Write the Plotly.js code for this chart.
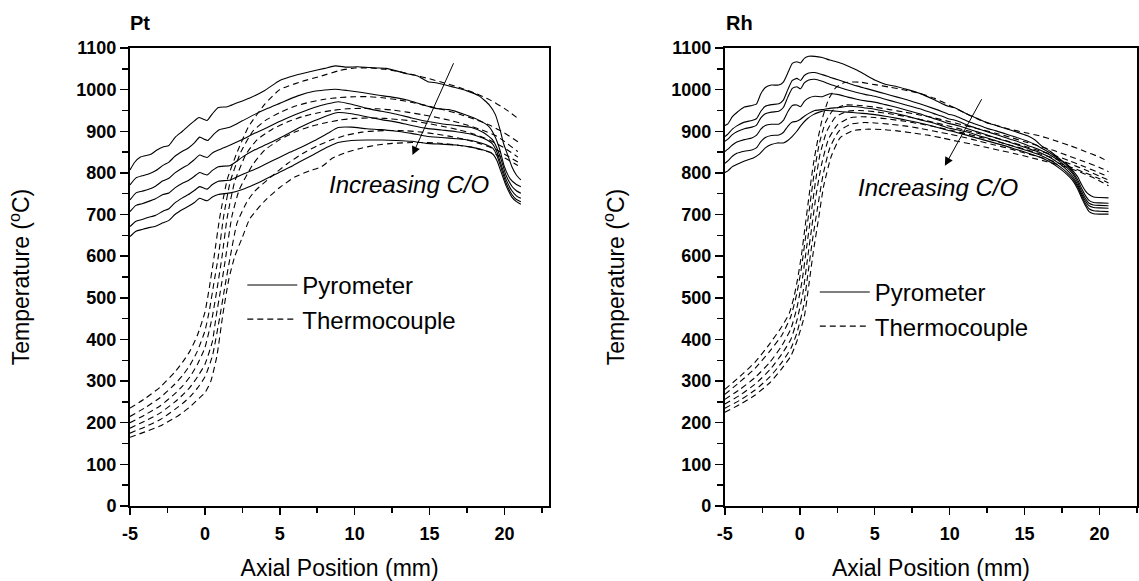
<!DOCTYPE html>
<html>
<head>
<meta charset="utf-8">
<script src="https://cdn.plot.ly/plotly-3.0.1.min.js"></script>
<style>html,body{margin:0;padding:0;background:#fff;}#chart{width:1139px;height:581px;}</style>
</head>
<body>
<div id="chart"></div>
<script>
// ---------- DATA (axial position mm, temperature °C) ----------
// Pt panel — pyrometer curves (increasing C/O from 1 to 6)
const ptPyro1 = [[-5,807],[-4.7,825],[-4.3,838],[-4,841],[-3.6,845],[-3.2,855],[-2.8,862],[-2.4,866],[-2,885],[-1.5,900],[-1.1,913],[-0.7,925],[-0.4,933],[-0.1,929],[0.15,926],[0.5,942],[0.9,957],[1.5,959],[2,966],[3,980],[4,998],[5,1022],[6,1034],[7,1043],[8,1051],[8.7,1057],[9.5,1054],[10.2,1055],[11,1053],[12.1,1051],[12.8,1045],[13.5,1038],[14.2,1033],[14.9,1019],[15.5,1016],[16.6,1006],[17.5,997],[18.3,985],[19,963],[19.4,940],[19.7,905],[19.95,870],[20.2,845],[20.5,815],[20.8,795],[21.1,783]];
const ptPyro2 = [[-5,771],[-4.6,788],[-4.2,793],[-3.8,797],[-3.3,805],[-2.8,818],[-2.4,826],[-2,840],[-1.5,852],[-1.1,860],[-0.7,872],[-0.35,886],[-0.05,881],[0.2,878],[0.6,893],[1.0,904],[1.7,910],[2.5,925],[3.3,940],[4.2,955],[5,967],[6.2,985],[7.3,996],[8.7,1001],[9.5,998],[10.5,993],[11.5,987],[12.5,982],[13.5,975],[14.5,964],[15.4,955],[16.3,952],[17.3,941],[18.4,925],[19,910],[19.4,885],[19.7,855],[20,815],[20.4,785],[20.8,772],[21.1,767]];
const ptPyro3 = [[-5,735],[-4.6,752],[-4.2,756],[-3.8,760],[-3.3,768],[-2.8,781],[-2.4,787],[-2,800],[-1.5,812],[-1.1,820],[-0.7,832],[-0.35,843],[-0.05,839],[0.15,837],[0.5,848],[0.9,855],[1.7,867],[2.5,880],[3.3,895],[4.1,908],[4.9,922],[5.7,935],[6.4,945],[7.3,957],[8.2,966],[8.9,971],[9.8,965],[10.8,955],[11.8,948],[12.8,941],[13.8,932],[14.8,924],[15.8,918],[16.8,914],[17.8,909],[18.6,897],[19.2,880],[19.5,860],[19.8,830],[20.1,795],[20.5,768],[20.8,757],[21.1,751]];
const ptPyro4 = [[-5,707],[-4.6,722],[-4.2,726],[-3.8,731],[-3.3,738],[-2.8,748],[-2.4,752],[-2,764],[-1.5,775],[-1.1,782],[-0.7,792],[-0.35,801],[-0.05,797],[0.15,795],[0.5,806],[0.9,815],[1.7,818],[2.5,838],[3.3,855],[4.1,868],[4.9,882],[5.7,897],[6.4,910],[7.3,925],[8.2,938],[8.9,945],[9.8,942],[10.8,935],[11.8,928],[12.8,922],[13.8,914],[14.8,907],[15.8,903],[16.8,899],[17.8,893],[18.6,883],[19.2,870],[19.5,850],[19.8,818],[20.1,785],[20.5,757],[20.8,745],[21.1,739]];
const ptPyro5 = [[-5,671],[-4.6,684],[-4.2,688],[-3.8,693],[-3.3,698],[-2.8,708],[-2.4,714],[-2,728],[-1.5,740],[-1.1,748],[-0.7,758],[-0.35,767],[-0.05,763],[0.15,761],[0.5,772],[0.9,780],[1.7,783],[2.5,796],[3.3,808],[4.1,822],[4.9,836],[5.7,850],[6.4,861],[7.3,877],[8.2,895],[8.9,909],[9.8,910],[10.8,906],[11.8,904],[12.8,900],[13.8,895],[14.8,888],[15.8,885],[16.8,882],[17.8,878],[18.6,870],[19.2,860],[19.5,842],[19.8,810],[20.1,777],[20.5,748],[20.8,736],[21.1,731]];
const ptPyro6 = [[-5,647],[-4.6,660],[-4.2,664],[-3.8,668],[-3.3,672],[-2.8,680],[-2.4,686],[-2,700],[-1.5,712],[-1.1,720],[-0.7,729],[-0.35,739],[-0.05,735],[0.15,733],[0.5,742],[0.9,748],[1.7,752],[2.5,760],[3.3,772],[4.1,786],[4.9,800],[5.7,814],[6.4,828],[7.3,845],[8.2,862],[8.9,873],[9.8,878],[10.8,879],[11.8,879],[12.8,878],[13.8,876],[14.8,871],[15.8,869],[16.8,867],[17.8,862],[18.6,855],[19.2,846],[19.5,830],[19.8,800],[20.1,770],[20.5,742],[20.8,731],[21.1,725]];
// Pt panel — thermocouple curves
const ptTc1 = [[-5,235],[-4,258],[-3,285],[-2,322],[-1.5,345],[-1,372],[-0.5,410],[0,465],[0.3,525],[0.6,595],[1.0,695],[1.5,785],[2.1,845],[2.9,910],[4.0,965],[5.0,1000],[6.5,1020],[7.8,1033],[9,1046],[10,1052],[11,1052],[12,1049],[13,1043],[14,1035],[15,1026],[16,1016],[17,1005],[18,992],[19,976],[20,955],[20.9,931]];
const ptTc2 = [[-5,215],[-4,236],[-3,260],[-2,293],[-1.5,313],[-1,338],[-0.5,372],[0,420],[0.3,470],[0.6,535],[0.9,600],[1.25,695],[1.7,780],[2.4,850],[3.2,900],[4,925],[5,945],[6,960],[7,970],[8,977],[9,981],[10,983],[11,983],[12,980],[13,975],[14,968],[15,960],[16,951],[17,941],[18,929],[19,915],[20,896],[20.9,875]];
const ptTc3 = [[-5,200],[-4,219],[-3,240],[-2,270],[-1.5,288],[-1,310],[-0.5,340],[0,380],[0.5,455],[0.85,530],[1.15,600],[1.5,695],[2.0,780],[2.75,845],[3.5,880],[4.5,905],[5.5,922],[6.5,935],[7.5,944],[8.5,950],[9.5,954],[10.5,955],[11.5,954],[12.5,951],[13.5,946],[14.5,940],[15.5,933],[16.5,925],[17.5,915],[18.5,903],[19.5,888],[20.9,851]];
const ptTc4 = [[-5,187],[-4,204],[-3,223],[-2,250],[-1.5,266],[-1,285],[-0.5,310],[0,340],[0.5,395],[0.75,455],[1.1,530],[1.4,600],[1.8,695],[2.3,760],[3.2,820],[4,855],[5,880],[6,898],[7,911],[8,920],[9,927],[10,931],[11,932],[12,931],[13,928],[14,924],[15,918],[16,911],[17,903],[18,893],[19,879],[20,860],[20.9,838]];
const ptTc5 = [[-5,175],[-4,190],[-3,207],[-2,232],[-1.5,246],[-1,262],[-0.5,283],[0,310],[0.5,360],[1.0,455],[1.35,530],[1.7,600],[2.15,680],[2.8,730],[3.3,755],[4.4,790],[5.5,822],[6.5,846],[7.5,865],[8.5,880],[9.5,891],[10.5,898],[11.5,901],[12.5,902],[13.5,901],[14.5,898],[15.5,893],[16.5,887],[17.5,879],[18.5,869],[19.5,855],[20.9,826]];
const ptTc6 = [[-5,165],[-4,178],[-3,192],[-2,212],[-1.5,224],[-1,238],[-0.5,255],[0,272],[0.4,300],[0.8,360],[1.2,460],[1.6,545],[2.0,600],[2.5,645],[3.0,690],[4.0,733],[5.0,765],[6.0,790],[7.0,805],[7.8,815],[8.5,835],[9.5,850],[10.5,860],[11.5,867],[12.5,871],[14,873],[15.5,872],[17,866],[18,860],[19,850],[20,836],[20.9,818]];
// Rh panel — pyrometer curves
const rhPyro1 = [[-5,914],[-4.8,918],[-4.5,935],[-4.2,945],[-3.7,958],[-3.2,962],[-2.9,965],[-2.6,990],[-2.3,1005],[-1.9,1011],[-1.4,1011],[-1.1,1018],[-0.8,1040],[-0.5,1063],[-0.2,1067],[0.05,1064],[0.3,1075],[0.6,1080],[1.0,1080],[1.5,1077],[2.0,1071],[2.6,1065],[3.2,1057],[3.8,1047],[4.4,1035],[5.0,1023],[5.7,1013],[6.5,1007],[7.2,1000],[8.0,991],[8.9,977],[9.5,966],[9.9,960],[10.3,957],[10.7,950],[11.3,939],[11.9,930],[12.5,920],[13.1,914],[13.7,907],[14.4,899],[15.2,889],[15.7,879],[16.2,863],[16.7,852],[17.4,832],[17.8,822],[18.2,806],[18.55,790],[18.8,772],[19.05,757],[19.3,748],[19.6,742],[20.0,741],[20.6,740]];
const rhPyro2 = [[-5,887],[-4.8,893],[-4.5,905],[-4.2,913],[-3.7,922],[-3.2,926],[-2.9,930],[-2.6,948],[-2.3,960],[-1.9,964],[-1.4,966],[-1.1,975],[-0.8,1000],[-0.5,1022],[-0.2,1027],[0.05,1022],[0.3,1034],[0.6,1040],[1.0,1041],[1.5,1036],[2.0,1030],[2.6,1023],[3.2,1016],[3.8,1009],[4.4,1003],[5.0,997],[5.7,990],[6.5,982],[7.2,975],[8.0,966],[8.9,955],[9.5,947],[9.9,941],[10.3,938],[10.7,932],[11.3,923],[11.9,915],[12.5,907],[13.1,901],[13.7,894],[14.4,886],[15.2,876],[15.7,868],[16.2,858],[16.7,848],[17.4,830],[17.8,819],[18.2,802],[18.55,783],[18.8,763],[19.05,746],[19.3,734],[19.6,729],[20.0,728],[20.6,727]];
const rhPyro3 = [[-5,876],[-4.8,881],[-4.5,892],[-4.2,899],[-3.7,906],[-3.2,910],[-2.9,914],[-2.6,932],[-2.3,942],[-1.9,946],[-1.4,948],[-1.1,957],[-0.8,982],[-0.5,1003],[-0.2,1007],[0.05,1002],[0.3,1016],[0.6,1023],[1.0,1025],[1.5,1020],[2.0,1013],[2.6,1006],[3.2,999],[3.8,993],[4.4,988],[5.0,984],[5.7,977],[6.5,969],[7.2,962],[8.0,954],[8.9,943],[9.5,936],[9.9,930],[10.3,927],[10.7,922],[11.3,913],[11.9,906],[12.5,899],[13.1,892],[13.7,885],[14.4,877],[15.2,866],[15.7,860],[16.2,852],[16.7,843],[17.4,826],[17.8,814],[18.2,798],[18.55,777],[18.8,756],[19.05,739],[19.3,727],[19.6,723],[20.0,722],[20.6,721]];
const rhPyro4 = [[-5,851],[-4.8,857],[-4.5,867],[-4.2,874],[-3.7,880],[-3.2,884],[-2.9,890],[-2.6,905],[-2.3,914],[-1.9,917],[-1.4,917],[-1.1,926],[-0.8,947],[-0.5,962],[-0.2,963],[0.05,959],[0.3,972],[0.6,980],[1.0,984],[1.5,983],[2.0,990],[2.6,988],[3.2,982],[3.8,977],[4.4,973],[5.0,970],[5.7,964],[6.5,957],[7.2,950],[8.0,942],[8.9,931],[9.5,924],[9.9,919],[10.3,916],[10.7,912],[11.3,905],[11.9,898],[12.5,891],[13.1,884],[13.7,877],[14.4,869],[15.2,859],[15.7,853],[16.2,846],[16.7,837],[17.4,820],[17.8,808],[18.2,792],[18.55,771],[18.8,750],[19.05,733],[19.3,721],[19.6,717],[20.0,716],[20.6,715]];
const rhPyro5 = [[-5,823],[-4.8,829],[-4.5,840],[-4.2,847],[-3.7,852],[-3.2,855],[-2.9,860],[-2.6,875],[-2.3,885],[-1.9,890],[-1.4,891],[-1.1,897],[-0.8,912],[-0.5,922],[-0.2,924],[0.05,929],[0.3,936],[0.6,943],[1.0,950],[1.5,952],[2.0,955],[2.6,957],[3.2,960],[3.8,959],[4.4,956],[5.0,953],[5.7,948],[6.5,942],[7.2,936],[8.0,928],[8.9,920],[9.5,913],[9.9,908],[10.3,905],[10.7,902],[11.3,897],[11.9,890],[12.5,884],[13.1,877],[13.7,870],[14.4,862],[15.2,853],[15.7,847],[16.2,840],[16.7,831],[17.4,814],[17.8,802],[18.2,787],[18.55,766],[18.8,745],[19.05,727],[19.3,714],[19.6,709],[20.0,708],[20.6,707]];
const rhPyro6 = [[-5,801],[-4.8,805],[-4.5,815],[-4.1,822],[-3.6,830],[-3.1,836],[-2.7,845],[-2.3,860],[-1.9,868],[-1.5,872],[-1.1,872],[-0.8,878],[-0.5,888],[-0.2,900],[0.1,915],[0.5,930],[0.9,940],[1.3,946],[1.7,950],[2.2,949],[2.8,947],[3.5,945],[4.2,943],[5.0,940],[5.7,936],[6.5,931],[7.2,926],[8.0,920],[8.9,912],[9.5,906],[9.9,902],[10.3,899],[10.7,895],[11.3,889],[11.9,883],[12.5,877],[13.1,871],[13.7,865],[14.4,857],[15.2,848],[15.7,842],[16.2,835],[16.7,826],[17.4,809],[17.8,797],[18.2,782],[18.55,761],[18.8,740],[19.05,722],[19.3,707],[19.6,702],[20.0,701],[20.6,701]];
// Rh panel — thermocouple curves
const rhTc1 = [[-5,280],[-4,311],[-3,345],[-2,390],[-1.2,431],[-0.7,463],[-0.4,500],[-0.15,545],[0.1,600],[0.35,670],[0.6,740],[0.9,820],[1.2,880],[1.5,930],[1.9,975],[2.4,1005],[3,1017],[4,1018],[5,1012],[6,1006],[7,999],[8,991],[9,979],[10,962],[11,944],[12,927],[13,915],[14,905],[15,897],[16,889],[17,878],[18,866],[19,852],[20,838],[20.6,827]];
const rhTc2 = [[-5,268],[-4,298],[-3,330],[-2,372],[-1.2,410],[-0.6,455],[-0.2,510],[0.1,570],[0.4,650],[0.7,730],[1.0,810],[1.3,870],[1.7,920],[2.2,950],[3,963],[4,962],[5,958],[6,952],[7,946],[8,939],[9,932],[10,923],[11,914],[12,905],[13,896],[14,886],[15,875],[16,864],[17,853],[18,840],[19,827],[20,813],[20.6,803]];
const rhTc3 = [[-5,256],[-4,280],[-3,308],[-2,345],[-1.2,385],[-0.6,425],[-0.2,475],[0.15,540],[0.45,620],[0.75,700],[1.05,780],[1.35,845],[1.8,900],[2.4,935],[3.2,948],[4,950],[5,947],[6,942],[7,936],[8,929],[9,921],[10,912],[11,903],[12,894],[13,885],[14,875],[15,864],[16,853],[17,842],[18,829],[19,815],[20,800],[20.6,791]];
const rhTc4 = [[-5,245],[-4,266],[-3,292],[-2,327],[-1.2,365],[-0.6,400],[-0.2,445],[0.2,510],[0.5,590],[0.8,670],[1.1,750],[1.45,820],[1.9,880],[2.5,915],[3.3,932],[4.2,935],[5,933],[6,929],[7,924],[8,918],[9,911],[10,903],[11,895],[12,886],[13,877],[14,867],[15,857],[16,846],[17,835],[18,822],[19,808],[20,792],[20.6,783]];
const rhTc5 = [[-5,235],[-4,254],[-3,278],[-2,310],[-1.2,345],[-0.6,378],[-0.2,415],[0.25,480],[0.55,560],[0.85,640],[1.2,720],[1.55,795],[2.0,860],[2.6,900],[3.4,917],[4.3,921],[5,920],[6,917],[7,913],[8,907],[9,900],[10,893],[11,885],[12,876],[13,867],[14,858],[15,848],[16,838],[17,827],[18,815],[19,801],[20,786],[20.6,776]];
const rhTc6 = [[-5,225],[-4,244],[-3,266],[-2,296],[-1.2,330],[-0.6,360],[-0.2,395],[0.3,455],[0.6,530],[0.9,610],[1.25,690],[1.6,770],[2.1,840],[2.7,885],[3.5,901],[4.5,905],[5.5,904],[6.5,901],[7.5,896],[8.5,891],[9.5,884],[10.5,876],[11.5,869],[12.5,861],[13.5,853],[14.5,845],[15.5,836],[16.5,827],[17.5,817],[18.5,805],[19.5,790],[20.6,769]];

// Labels and ticks
const seriesNames = ['Pyrometer', 'Thermocouple'];
const panelTitles = ['Pt', 'Rh'];
const xTitle = 'Axial Position (mm)';
const yTitle = 'Temperature (<sup>o</sup>C)';
const noteText = 'Increasing C/O';
const xTickVals = [-5, 0, 5, 10, 15, 20];
const xTickText = ['-5', '0', '5', '10', '15', '20'];
const yTickVals = [0, 100, 200, 300, 400, 500, 600, 700, 800, 900, 1000, 1100];
const yTickText = ['0', '100', '200', '300', '400', '500', '600', '700', '800', '900', '1000', '1100'];

// ---------- BUILD ----------
const FONT = 'Liberation Sans, Arial, Helvetica, sans-serif';
const W = 1139, H = 581;
const ML = 129.6, MR = 1.5, MT = 48.3, MB = 75;
const PW = W - ML - MR, PH = H - MT - MB;
const px = v => (v - ML) / PW;          // pixel x -> paper x
const py = v => (H - MB - v) / PH;      // pixel y -> paper y

function curve(pairs, xa, ya, dashed, legendId, show) {
  return {
    type: 'scatter', mode: 'lines',
    x: pairs.map(p => p[0]), y: pairs.map(p => p[1]),
    xaxis: xa, yaxis: ya,
    name: dashed ? seriesNames[1] : seriesNames[0],
    legend: legendId, showlegend: show,
    hoverinfo: 'skip',
    line: {color: '#000', width: 1.1, dash: dashed ? '6px,4px' : 'solid', shape: 'spline', smoothing: 0.5}
  };
}

const traces = [];
[ptPyro1, ptPyro2, ptPyro3, ptPyro4, ptPyro5, ptPyro6].forEach((c, i) => traces.push(curve(c, 'x', 'y', false, 'legend', i === 0)));
[ptTc1, ptTc2, ptTc3, ptTc4, ptTc5, ptTc6].forEach((c, i) => traces.push(curve(c, 'x', 'y', true, 'legend', i === 0)));
[rhPyro1, rhPyro2, rhPyro3, rhPyro4, rhPyro5, rhPyro6].forEach((c, i) => traces.push(curve(c, 'x2', 'y2', false, 'legend2', i === 0)));
[rhTc1, rhTc2, rhTc3, rhTc4, rhTc5, rhTc6].forEach((c, i) => traces.push(curve(c, 'x2', 'y2', true, 'legend2', i === 0)));

const tickFont = {family: FONT, size: 18, color: '#000', weight: 'bold'};
const titleFont = {family: FONT, size: 23, color: '#000'};

const leftDom = [0, px(549.3)];
const rightDom = [px(725), 1];

function xMain(dom, range, anchor) {
  return {
    domain: dom, range: range, anchor: anchor,
    tickmode: 'array', tickvals: xTickVals, ticktext: xTickText,
    ticks: 'outside', ticklen: 7, tickwidth: 1.5, tickcolor: '#000',
    minor: {tickmode: 'linear', tick0: 0, dtick: 2.5, ticks: 'outside', ticklen: 5, tickwidth: 1.5, tickcolor: '#000'},
    showline: true, linewidth: 2, linecolor: '#000', mirror: true,
    showgrid: false, zeroline: false,
    tickfont: tickFont, ticklabelstandoff: 3,
    title: {text: xTitle, font: titleFont, standoff: 20}
  };
}
function xTop(over, range, anchor) {
  return {
    overlaying: over, side: 'top', anchor: anchor, range: range,
    tickmode: 'linear', tick0: 0, dtick: 2.5,
    ticks: 'inside', ticklen: 7, tickwidth: 1.5, tickcolor: '#000',
    showticklabels: false, showline: false, showgrid: false, zeroline: false
  };
}
function yMain(anchor) {
  return {
    domain: [0, 1], range: [0, 1100], anchor: anchor,
    tickmode: 'array', tickvals: yTickVals, ticktext: yTickText,
    ticks: 'outside', ticklen: 8, tickwidth: 1.5, tickcolor: '#000',
    minor: {tickmode: 'linear', tick0: 0, dtick: 50, ticks: 'outside', ticklen: 6, tickwidth: 1.5, tickcolor: '#000'},
    showline: true, linewidth: 2, linecolor: '#000', mirror: true,
    showgrid: false, zeroline: false,
    tickfont: tickFont,
    title: {text: yTitle, font: titleFont, standoff: 40}
  };
}
function yRight(over, anchor, step) {
  return {
    overlaying: over, side: 'right', anchor: anchor, range: [0, 1100],
    tickmode: 'linear', tick0: 0, dtick: step,
    ticks: 'inside', ticklen: 8, tickwidth: 1.5, tickcolor: '#000',
    showticklabels: false, showline: false, showgrid: false, zeroline: false
  };
}

const legendBase = {
  xanchor: 'left', yanchor: 'top', bgcolor: 'rgba(0,0,0,0)', borderwidth: 0,
  font: {family: FONT, size: 24, color: '#000'}, itemwidth: 50, tracegroupgap: 0,
  itemclick: false, itemdoubleclick: false
};

const layout = {
  width: W, height: H,
  margin: {l: ML, r: MR, t: MT, b: MB, pad: 0},
  paper_bgcolor: '#fff', plot_bgcolor: '#fff',
  font: {family: FONT, color: '#000'},
  xaxis: xMain(leftDom, [-5, 23], 'y'),
  yaxis: yMain('x'),
  xaxis2: xMain(rightDom, [-5, 22.5], 'y2'),
  yaxis2: yMain('x2'),
  xaxis3: xTop('x', [-5, 23], 'y'),
  xaxis4: xTop('x2', [-5, 22.5], 'y2'),
  yaxis3: yRight('y', 'x', 110),
  yaxis4: yRight('y2', 'x2', 100),
  legend: Object.assign({x: px(242), y: py(263)}, legendBase),
  legend2: Object.assign({x: px(815), y: py(270)}, legendBase),
  annotations: [
    {xref: 'paper', yref: 'paper', x: px(128), y: py(23), xanchor: 'left', yanchor: 'middle', showarrow: false,
     text: '<b>' + panelTitles[0] + '</b>', font: {family: FONT, size: 20, color: '#000'}},
    {xref: 'paper', yref: 'paper', x: px(724), y: py(23), xanchor: 'left', yanchor: 'middle', showarrow: false,
     text: '<b>' + panelTitles[1] + '</b>', font: {family: FONT, size: 20, color: '#000'}},
    {xref: 'x', yref: 'y', x: 13.63, y: 771, showarrow: false, text: '<i>' + noteText + '</i>',
     font: {family: FONT, size: 24, color: '#000'}},
    {xref: 'x2', yref: 'y2', x: 9.24, y: 764, showarrow: false, text: '<i>' + noteText + '</i>',
     font: {family: FONT, size: 24, color: '#000'}},
    {xref: 'x', yref: 'y', x: 13.86, y: 843, axref: 'x', ayref: 'y', ax: 16.65, ay: 1067,
     showarrow: true, arrowhead: 2, arrowsize: 1.7, arrowwidth: 1, arrowcolor: '#000', text: ''},
    {xref: 'x2', yref: 'y2', x: 9.68, y: 817, axref: 'x2', ayref: 'y2', ax: 12.19, ay: 980.6,
     showarrow: true, arrowhead: 2, arrowsize: 1.7, arrowwidth: 1, arrowcolor: '#000', text: ''}
  ]
};

Plotly.newPlot('chart', traces, layout, {staticPlot: true, displayModeBar: false});
</script>
</body>
</html>
